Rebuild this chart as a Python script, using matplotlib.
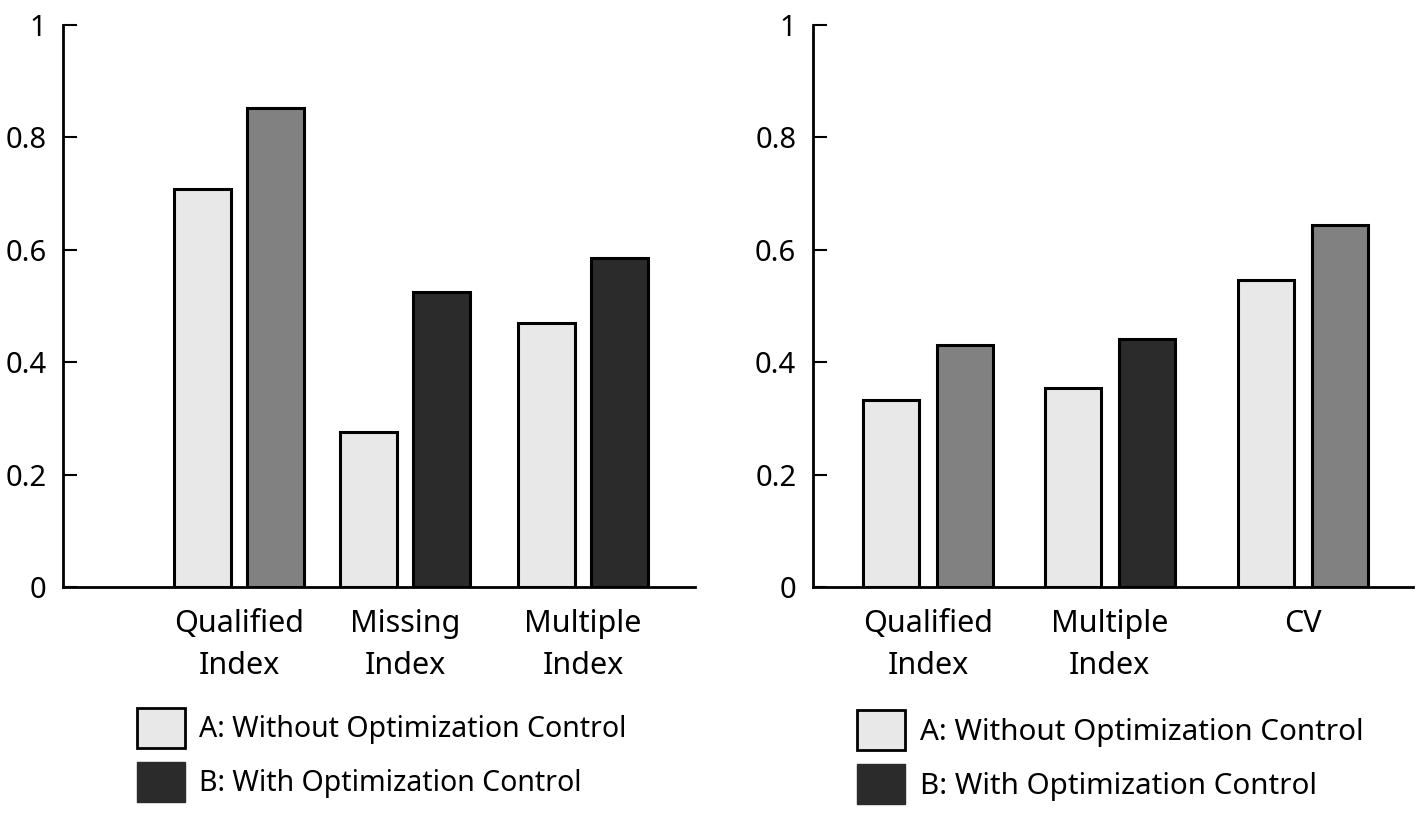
import matplotlib
matplotlib.use("Agg")
import matplotlib.pyplot as plt
from matplotlib.patches import Patch
from matplotlib.ticker import FixedLocator, FixedFormatter

plt.rcParams['font.family'] = ['Noto Sans', 'DejaVu Sans']

# 데이터
left_categories = ["Qualified\nIndex", "Missing\nIndex", "Multiple\nIndex"]
left_a = [0.708, 0.276, 0.470]
left_b = [0.852, 0.525, 0.585]

right_categories = ["Qualified\nIndex", "Multiple\nIndex", "CV"]
right_a = [0.333, 0.354, 0.546]
right_b = [0.431, 0.441, 0.644]

y_ticks = [0, 0.2, 0.4, 0.6, 0.8, 1]
y_tick_labels = ["0", "0.2", "0.4", "0.6", "0.8", "1"]
legend_labels = ["A: Without Optimization Control", "B: With Optimization Control"]

# 색상
light = "#e8e8e8"
gray = "#818181"
dark = "#2b2b2b"
left_b_colors = [gray, dark, dark]
right_b_colors = [gray, dark, gray]


def draw_panel(ax, cats, a_vals, b_vals, b_colors, pos, xlim, width, offset):
    for i, p in enumerate(pos):
        ax.bar(p - offset, a_vals[i], width, color=light, edgecolor="black", linewidth=2.2, zorder=3)
        ax.bar(p + offset, b_vals[i], width, color=b_colors[i], edgecolor="black", linewidth=2.2, zorder=3)
    ax.set_xlim(*xlim)
    ax.set_ylim(0, 1)
    ax.spines['top'].set_visible(False)
    ax.spines['right'].set_visible(False)
    ax.spines['left'].set_linewidth(2)
    ax.spines['bottom'].set_linewidth(2)
    ax.yaxis.set_major_locator(FixedLocator(y_ticks))
    ax.yaxis.set_major_formatter(FixedFormatter(y_tick_labels))
    ax.tick_params(axis='y', direction='in', length=10, width=1.5, labelsize=21, pad=12)
    ax.set_xticks(pos)
    ax.set_xticklabels(cats, fontsize=22, linespacing=1.5)
    ax.tick_params(axis='x', length=0, pad=16)


def add_legend(ax, anchor, fs):
    handles = [Patch(facecolor=light, edgecolor="black", linewidth=2),
               Patch(facecolor=dark, edgecolor=dark, linewidth=1)]
    fs_px = fs * 100 / 72
    hh = (40 / fs_px - 0.245) / 0.65
    ax.legend(handles, legend_labels, loc='upper left', bbox_to_anchor=anchor,
              bbox_transform=ax.figure.transFigure, frameon=False, fontsize=fs,
              handlelength=48 / fs_px, handleheight=hh, labelspacing=0.47,
              handletextpad=0.5, borderpad=0, borderaxespad=0)


def main():
    fig = plt.figure(figsize=(14.17, 8.14), dpi=100)
    ax1 = fig.add_axes([0.0445, 0.2789, 0.4460, 0.6904])
    ax2 = fig.add_axes([0.5737, 0.2789, 0.4235, 0.6904])

    draw_panel(ax1, left_categories, left_a, left_b, left_b_colors,
               [0, 0.965, 2.0], (-1.023, 2.651), 0.33, 0.214)
    draw_panel(ax2, right_categories, right_a, right_b, right_b_colors,
               [0, 0.97, 2.0], (-0.613, 2.587), 0.30, 0.197)

    add_legend(ax1, (0.0967, 0.130), 20.5)
    add_legend(ax2, (0.6048, 0.1275), 21.3)

    fig.savefig("out.png", dpi=100)


if __name__ == "__main__":
    main()
